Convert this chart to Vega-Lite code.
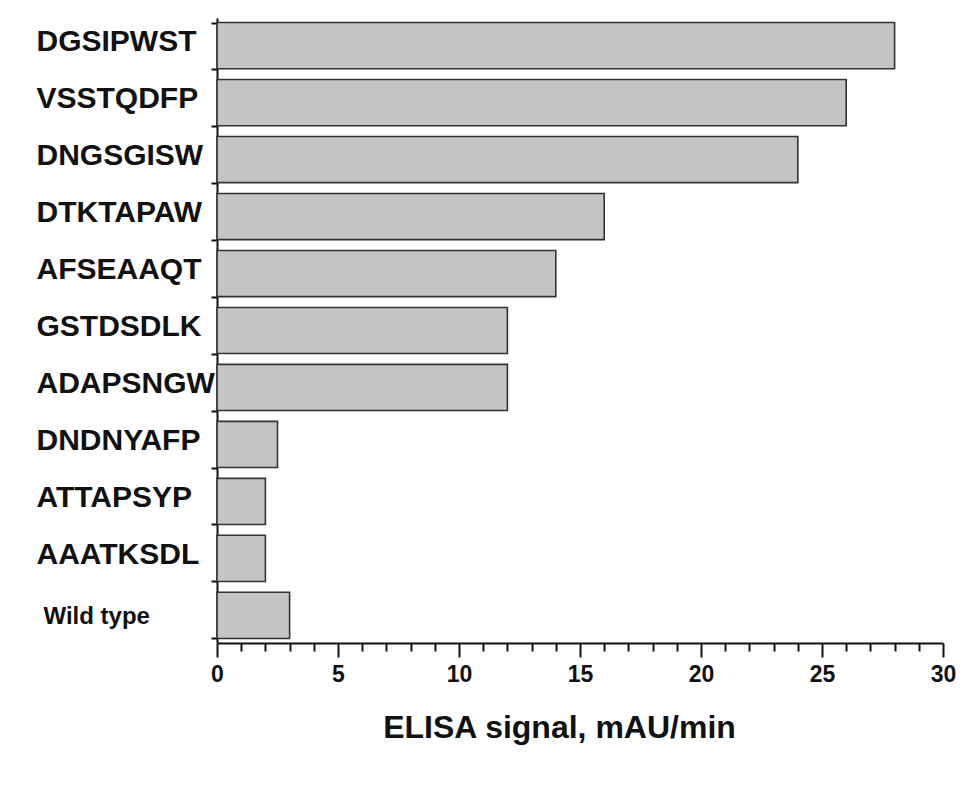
{
  "$schema": "https://vega.github.io/schema/vega-lite/v6.json",
  "autosize": "none",
  "width": 726,
  "height": 625,
  "padding": {"left": 217, "top": 18, "right": 26, "bottom": 143},
  "background": "white",
  "data": {"values": [
    {"peptide": "DGSIPWST", "signal": 28},
    {"peptide": "VSSTQDFP", "signal": 26},
    {"peptide": "DNGSGISW", "signal": 24},
    {"peptide": "DTKTAPAW", "signal": 16},
    {"peptide": "AFSEAAQT", "signal": 14},
    {"peptide": "GSTDSDLK", "signal": 12},
    {"peptide": "ADAPSNGW", "signal": 12},
    {"peptide": "DNDNYAFP", "signal": 2.5},
    {"peptide": "ATTAPSYP", "signal": 2},
    {"peptide": "AAATKSDL", "signal": 2},
    {"peptide": "Wild type", "signal": 3}
  ]},
  "encoding": {
    "y": {
      "field": "peptide", "type": "nominal", "sort": null,
      "scale": {"paddingInner": 0.19, "paddingOuter": 0.08},
      "axis": {
        "title": null,
        "domainColor": "#111", "domainWidth": 2,
        "tickColor": "#111", "tickWidth": 2, "tickSize": 6, "tickBand": "extent",
        "labelAlign": "left",
        "labelPadding": {"condition": {"test": "datum.value === 'Wild type'", "value": 168}, "value": 175},
        "labelLimit": 400,
        "labelFont": "Liberation Sans", "labelFontWeight": "bold",
        "labelFontSize": {"condition": {"test": "datum.value === 'Wild type'", "value": 24}, "value": 30},
        "labelColor": "#111",
        "labelOffset": {"condition": {"test": "datum.value === 'Wild type'", "value": 1}, "value": -4}
      }
    }
  },
  "layer": [
    {
      "mark": {"type": "bar", "fill": "#c4c4c4", "stroke": "#333", "strokeWidth": 1.6},
      "encoding": {
        "x": {
          "field": "signal", "type": "quantitative",
          "scale": {"domain": [0, 30], "nice": false},
          "axis": {
            "orient": "bottom",
            "title": "ELISA signal, mAU/min",
            "titleFont": "Liberation Sans", "titleFontWeight": "bold", "titleFontSize": 32, "titleColor": "#111",
            "titlePadding": 26, "titleX": 342,
            "values": [0, 5, 10, 15, 20, 25, 30],
            "tickSize": 14, "tickColor": "#111", "tickWidth": 2,
            "domainColor": "#111", "domainWidth": 2,
            "grid": false,
            "labelFont": "Liberation Sans", "labelFontWeight": "bold", "labelFontSize": 23, "labelColor": "#111",
            "labelPadding": 6, "labelFlush": false
          }
        }
      }
    },
    {
      "mark": {"type": "bar", "opacity": 0},
      "encoding": {
        "x": {
          "field": "signal", "type": "quantitative",
          "axis": {
            "orient": "bottom",
            "title": null,
            "values": [1,2,3,4,6,7,8,9,11,12,13,14,16,17,18,19,21,22,23,24,26,27,28,29],
            "labels": false, "domain": false, "grid": false,
            "tickSize": 8, "tickColor": "#111", "tickWidth": 2
          }
        }
      }
    }
  ],
  "resolve": {"axis": {"x": "independent"}},
  "config": {"view": {"stroke": null}}
}
